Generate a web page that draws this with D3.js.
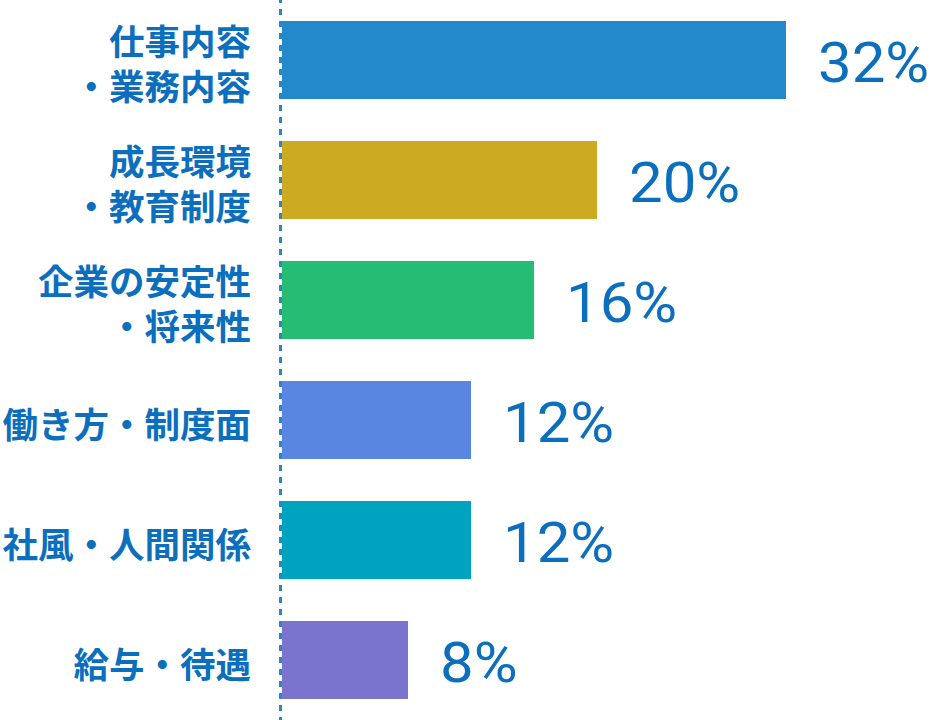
<!DOCTYPE html>
<html><head><meta charset="utf-8">
<script src="https://cdn.jsdelivr.net/npm/d3@7"></script>
<style>html,body{margin:0;padding:0;background:#fff;}svg{display:block;}</style>
</head><body>
<svg id="chart" width="930" height="720"></svg>
<script>
const categories = ["仕事内容\n・業務内容", "成長環境\n・教育制度", "企業の安定性\n・将来性", "働き方・制度面", "社風・人間関係", "給与・待遇"];
const values = [32, 20, 16, 12, 12, 8];
const colors = ["#2389ca", "#ccaa22", "#26bc73", "#5886e0", "#00a3bf", "#7b74cf"];

const svg = d3.select("#chart");
const x0 = 282;
const x = d3.scaleLinear().domain([0, 32]).range([x0, 786]);
const y = d3.scaleBand().domain(categories).range([0, 720]).paddingInner(0.35).paddingOuter(0.175);

svg.selectAll("rect.bar").data(categories).join("rect")
  .attr("class", "bar")
  .attr("x", x(0))
  .attr("y", d => y(d))
  .attr("width", (d, i) => x(values[i]) - x(0))
  .attr("height", y.bandwidth())
  .attr("fill", (d, i) => colors[i]);

svg.append("line")
  .attr("x1", 280.5).attr("x2", 280.5)
  .attr("y1", -3).attr("y2", 720)
  .attr("stroke", "#2389ca").attr("stroke-width", 3)
  .attr("stroke-dasharray", "6,6");

const textColor = "#0b6fbd";
svg.selectAll("text.val").data(categories).join("text")
  .attr("class", "val")
  .attr("transform", (d, i) => `translate(${x(values[i]) + 32},${y(d) + y.bandwidth() / 2 + 22}) scale(1.07,1)`)
  .attr("fill", textColor)
  .attr("font-family", "Roboto, sans-serif")
  .attr("font-size", 56)
  .text((d, i) => values[i] + "%");

const lab = svg.selectAll("text.lab").data(categories).join("text")
  .attr("class", "lab")
  .attr("text-anchor", "end")
  .attr("fill", textColor)
  .attr("font-family", "'Noto Sans CJK JP', sans-serif")
  .attr("font-weight", "bold")
  .attr("font-size", 35.5);
lab.each(function(d) {
  const lines = d.split("\n");
  const cy = y(d) + y.bandwidth() / 2 + 2;
  const lh = 45;
  const t = d3.select(this);
  lines.forEach((l, k) => {
    t.append("tspan")
      .attr("x", 251)
      .attr("y", cy + (k - (lines.length - 1) / 2) * lh)
      .attr("dominant-baseline", "central")
      .text(l);
  });
});
</script>
</body></html>
